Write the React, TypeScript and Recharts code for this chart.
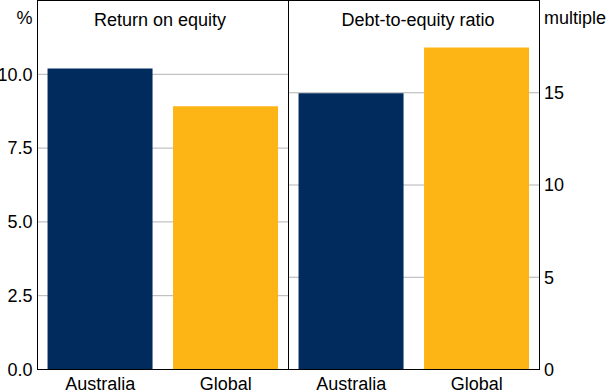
import { BarChart, Bar, Cell, XAxis, YAxis, CartesianGrid, ReferenceLine, ReferenceArea } from "recharts";

const categories = ["Australia", "Global"];
const returnOnEquity = [10.2, 8.92];
const debtToEquity = [14.97, 17.45];
const roeTicks = [0, 2.5, 5, 7.5, 10, 12.5];
const debtTicks = [0, 5, 10, 15, 20];
const barColors = ["#002B5C", "#FDB515"];

const FONT = "'Liberation Sans', Arial, sans-serif";

const roeData = categories.map((name, i) => ({ name, value: returnOnEquity[i] }));
const debtData = categories.map((name, i) => ({ name, value: debtToEquity[i] }));

function LeftTick({ x, y, payload }: any) {
  const top = payload.value === 12.5;
  return (
    <text x={x + 3} y={top ? y + 8.5 : y} dy="0.355em" textAnchor="end" fontSize={18} fontFamily={FONT} fill="#000">
      {top ? "%" : payload.value.toFixed(1)}
    </text>
  );
}

function RightTick({ x, y, payload }: any) {
  const top = payload.value === 20;
  return (
    <text x={x - 3.5} y={top ? y + 8.5 : y} dy="0.355em" textAnchor="start" fontSize={18} fontFamily={FONT} fill="#000">
      {top ? "multiple" : payload.value}
    </text>
  );
}

function BottomTick({ x, y, payload }: any) {
  return (
    <text x={x} y={y} dy="12.8" textAnchor="middle" fontSize={18} fontFamily={FONT} fill="#000">
      {payload.value}
    </text>
  );
}

const line = { stroke: "#000", strokeWidth: 1 };
const frameH = ({ offset }: any) => [offset.top, offset.top + offset.height];
const frameV = ({ offset }: any) => [offset.left, offset.left + offset.width];

export default function App() {
  return (
    <div style={{ position: "absolute", left: 0, top: 0, width: 606, height: 391, background: "#fff" }}>
      <div style={{ position: "absolute", left: 0, top: 0 }}>
        <BarChart width={289} height={391} data={roeData} margin={{ top: 0.5, right: 0.5, left: 0, bottom: 0 }} barCategoryGap="8%">
          <CartesianGrid horizontal vertical={false} stroke="#b3b3b3" />
          <Bar dataKey="value" isAnimationActive={false}>
            {roeData.map((d, i) => (
              <Cell key={d.name} fill={barColors[i]} />
            ))}
          </Bar>
          <CartesianGrid stroke="#000" horizontalCoordinatesGenerator={frameH} verticalCoordinatesGenerator={frameV} />
          <ReferenceArea x1="Australia" x2="Global" y1={0} y2={12.5} fill="none" fillOpacity={0} stroke="#000" strokeWidth={1} ifOverflow="visible" />
          <XAxis dataKey="name" height={21.5} axisLine={line} tickLine={false} tick={<BottomTick />} />
          <YAxis width={37.5} domain={[0, 12.5]} ticks={roeTicks} axisLine={line} tickLine={false} tick={<LeftTick />} />
          <ReferenceLine y={12.5} stroke="#000" ifOverflow="visible" label={{ value: "Return on equity", position: "insideTop", offset: 13, fontSize: 18, fontFamily: FONT, fill: "#000", dx: -3 }} />
        </BarChart>
      </div>
      <div style={{ position: "absolute", left: 288, top: 0 }}>
        <BarChart width={318} height={391} data={debtData} margin={{ top: 0.5, right: 0, left: 0.5, bottom: 0 }} barCategoryGap="8%">
          <CartesianGrid horizontal vertical={false} stroke="#b3b3b3" />
          <Bar dataKey="value" isAnimationActive={false}>
            {debtData.map((d, i) => (
              <Cell key={d.name} fill={barColors[i]} />
            ))}
          </Bar>
          <CartesianGrid stroke="#000" horizontalCoordinatesGenerator={frameH} verticalCoordinatesGenerator={frameV} />
          <ReferenceArea x1="Australia" x2="Global" y1={0} y2={20} fill="none" fillOpacity={0} stroke="#000" strokeWidth={1} ifOverflow="visible" />
          <XAxis dataKey="name" height={21.5} axisLine={line} tickLine={false} tick={<BottomTick />} />
          <YAxis orientation="right" width={66.5} domain={[0, 20]} ticks={debtTicks} axisLine={line} tickLine={false} tick={<RightTick />} />
          <ReferenceLine y={20} stroke="#000" ifOverflow="visible" label={{ value: "Debt-to-equity ratio", position: "insideTop", offset: 13, fontSize: 18, fontFamily: FONT, fill: "#000", dx: 4 }} />
        </BarChart>
      </div>
    </div>
  );
}
